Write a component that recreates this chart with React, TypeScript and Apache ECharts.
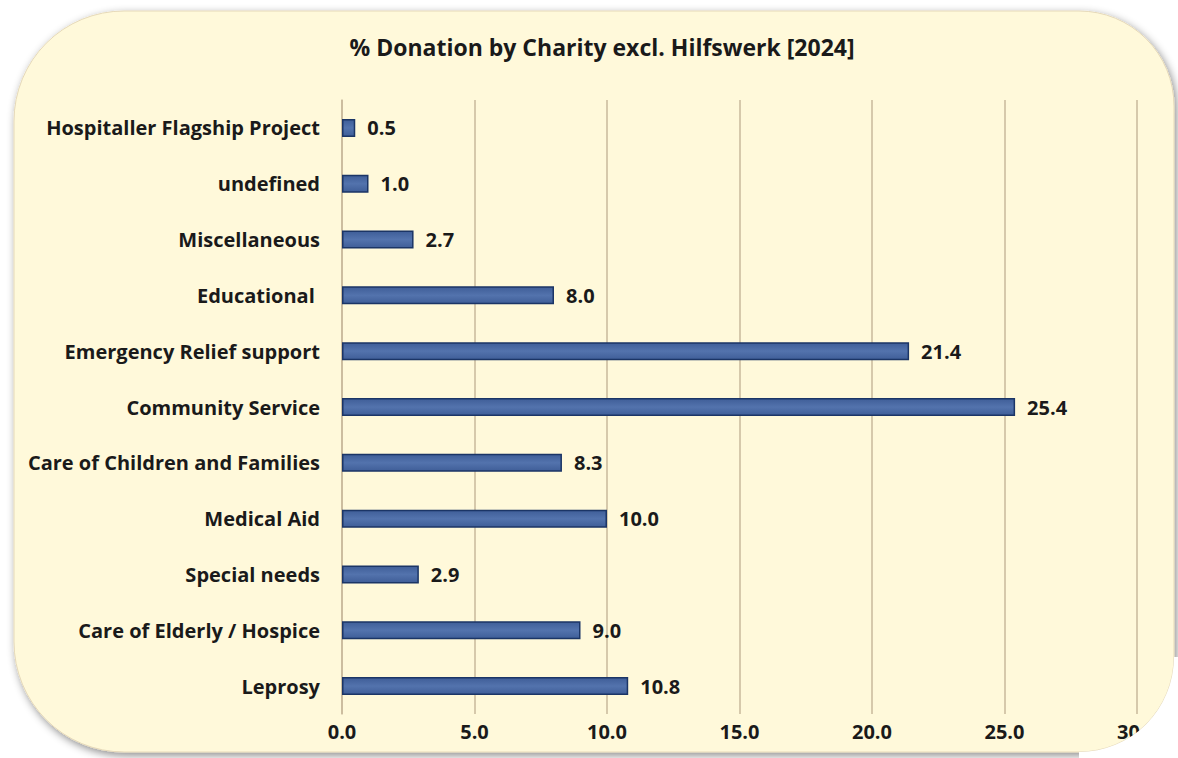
import React, { useEffect, useRef } from "react";
import * as echarts from "echarts";

const categories = [
  "Hospitaller Flagship Project",
  "undefined",
  "Miscellaneous",
  "Educational ",
  "Emergency Relief support",
  "Community Service",
  "Care of Children and Families",
  "Medical Aid",
  "Special needs",
  "Care of Elderly / Hospice",
  "Leprosy",
];
const values = [0.5, 1.0, 2.7, 8.0, 21.4, 25.4, 8.3, 10.0, 2.9, 9.0, 10.8];
const titleText = "% Donation by Charity excl. Hilfswerk [2024]";
const xMin = 0;
const xMax = 30;
const xStep = 5;

const FONT = "Open Sans";

export default function App() {
  const ref = useRef<HTMLDivElement>(null);
  useEffect(() => {
    if (!ref.current) return;
    const chart = echarts.init(ref.current, undefined, { renderer: "svg" });
    const r = 95;
    const cx = 1174 - r;
    const cy = 752 - r;
    const maskPath = `M ${cx + r} ${cy} L 1178 ${cy} L 1178 758 L ${cx} 758 L ${cx} 752 A ${r} ${r} 0 0 0 ${cx + r} ${cy} Z`;
    echarts.graphic.registerShape("cornerMask", echarts.graphic.extendPath(maskPath, {}) as any);
    chart.setOption({
      animation: false,
      backgroundColor: "#ffffff",
      title: {
        text: titleText,
        left: 597,
        top: 30,
        textAlign: "center",
        textStyle: { fontFamily: FONT, fontWeight: "bold", fontSize: 23, color: "#1a1a1a" },
      },
      graphic: [
        {
          type: "rect",
          z: -10,
          shape: { x: 14, y: 11, width: 1160, height: 741, r: [110, 95, 95, 110] },
          style: {
            fill: "#FFF9DA",
            stroke: "#E6D9B8",
            lineWidth: 1,
            shadowBlur: 8,
            shadowOffsetX: 2,
            shadowOffsetY: 3,
            shadowColor: "rgba(0,0,0,0.45)",
          },
        },
        {
          type: "cornerMask",
          z: 100,
          x: 0,
          y: 0,
          style: { fill: "#ffffff" },
        },
      ],
      grid: { left: 342, right: 41, top: 100, bottom: 44 },
      xAxis: {
        type: "value",
        min: xMin,
        max: xMax,
        interval: xStep,
        axisLine: { show: false },
        axisTick: { show: false },
        splitLine: { show: true, lineStyle: { color: "#C9B99B", width: 1.5 } },
        axisLabel: {
          formatter: (v: number) => v.toFixed(1),
          fontFamily: FONT,
          fontWeight: "bold",
          fontSize: 20,
          color: "#1a1a1a",
          margin: 7,
        },
      },
      yAxis: {
        type: "category",
        data: categories,
        inverse: true,
        axisLine: { show: true, lineStyle: { color: "#C9B99B", width: 1.5 } },
        axisTick: { show: false },
        axisLabel: {
          fontFamily: FONT,
          fontWeight: "bold",
          fontSize: 20,
          color: "#1a1a1a",
          margin: 22,
        },
      },
      series: [
        {
          type: "bar",
          data: values,
          barWidth: 18,
          itemStyle: {
            color: new echarts.graphic.LinearGradient(0, 0, 0, 1, [
              { offset: 0, color: "#3F5E98" },
              { offset: 0.5, color: "#5373AD" },
              { offset: 1, color: "#3F5E98" },
            ]),
            borderColor: "#1B3566",
            borderWidth: 1.5,
          },
          label: {
            show: true,
            position: "right",
            distance: 12,
            formatter: (p: any) => Number(p.value).toFixed(1),
            fontFamily: FONT,
            fontWeight: "bold",
            fontSize: 20,
            color: "#1a1a1a",
          },
        },
      ],
    });
    return () => chart.dispose();
  }, []);
  return (
    <div
      ref={ref}
      style={{ position: "fixed", left: 0, top: 0, width: 1178, height: 758 }}
    />
  );
}
